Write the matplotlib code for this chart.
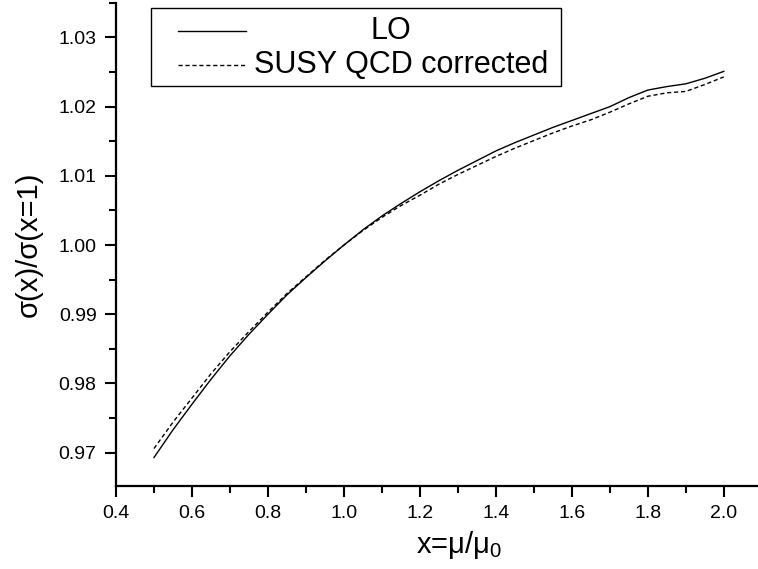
import matplotlib
matplotlib.use("Agg")
import matplotlib.pyplot as plt
from matplotlib.ticker import MultipleLocator, FormatStrFormatter
from matplotlib.patches import Rectangle
from matplotlib.lines import Line2D

plt.rcParams["font.family"] = ["Liberation Sans", "DejaVu Sans"]
plt.rcParams["mathtext.fontset"] = "custom"
plt.rcParams["mathtext.rm"] = "Liberation Sans"
plt.rcParams["mathtext.it"] = "Liberation Sans"

# scale ratio x = mu/mu0
x = [0.50, 0.55, 0.60, 0.65, 0.70, 0.75, 0.80, 0.85, 0.90, 0.95,
     1.00, 1.05, 1.10, 1.15, 1.20, 1.25, 1.30, 1.35, 1.40, 1.45,
     1.50, 1.55, 1.60, 1.65, 1.70, 1.75, 1.80, 1.85, 1.90, 1.95, 2.00]

lo = [0.9693, 0.9733, 0.9770, 0.9806, 0.9840, 0.9871, 0.9900, 0.9928, 0.9953, 0.9977,
      1.0000, 1.0022, 1.0042, 1.0060, 1.0077, 1.0093, 1.0108, 1.0122, 1.0136, 1.0148,
      1.0159, 1.0170, 1.0180, 1.0190, 1.0200, 1.0213, 1.0224, 1.0229, 1.0233, 1.0241, 1.0251]

susy = [0.9706, 0.9744, 0.9779, 0.9814, 0.9846, 0.9875, 0.9903, 0.9930, 0.9954, 0.9978,
        1.0000, 1.0021, 1.0040, 1.0057, 1.0072, 1.0088, 1.0102, 1.0115, 1.0128, 1.0140,
        1.0151, 1.0162, 1.0172, 1.0181, 1.0192, 1.0204, 1.0215, 1.0220, 1.0222, 1.0232, 1.0243]

labels = ["LO", "SUSY QCD corrected"]

fig = plt.figure(figsize=(7.58, 5.69), dpi=100)
ax = fig.add_axes([0.153, 0.146, 0.847, 0.849])

ax.plot(x, lo, color="black", lw=1.0)
ax.plot(x, susy, color="black", lw=1.0, ls=(0, (3, 2)))

ax.set_xlim(0.4, 2.09)
ax.set_ylim(0.9652, 1.035)

for side in ["top", "right"]:
    ax.spines[side].set_visible(False)
for side in ["left", "bottom"]:
    ax.spines[side].set_linewidth(1.6)

ax.xaxis.set_major_locator(MultipleLocator(0.2))
ax.xaxis.set_minor_locator(MultipleLocator(0.1))
ax.yaxis.set_major_locator(MultipleLocator(0.01))
ax.yaxis.set_minor_locator(MultipleLocator(0.005))
ax.xaxis.set_major_formatter(FormatStrFormatter("%.1f"))
ax.yaxis.set_major_formatter(FormatStrFormatter("%.2f"))
ax.tick_params(which="major", direction="out", length=8, width=1.5, labelsize=14, pad=6)
ax.tick_params(which="minor", direction="out", length=5, width=1.5)

ax.set_xlabel("x=μ/μ$_\\mathregular{0}$", fontsize=21)
ax.set_ylabel("σ(x)/σ(x=1)", fontsize=21)
ax.xaxis.set_label_coords(0.534, -0.09)
ax.yaxis.set_label_coords(-0.114, 0.50)

# legend box drawn by hand so the labels can sit centred
ax.add_patch(Rectangle((0.0545, 0.828), 0.6385, 0.1616, transform=ax.transAxes,
                       fill=False, edgecolor="black", lw=1.0, clip_on=False))
ax.add_line(Line2D([0.0966, 0.2025], [0.942, 0.942], transform=ax.transAxes,
                   color="black", lw=1.0))
ax.add_line(Line2D([0.0966, 0.2025], [0.871, 0.871], transform=ax.transAxes,
                   color="black", lw=1.0, ls=(0, (3, 2))))
ax.text(0.428, 0.942, labels[0], transform=ax.transAxes, ha="center", va="center", fontsize=22)
ax.text(0.444, 0.871, labels[1], transform=ax.transAxes, ha="center", va="center", fontsize=22)

fig.savefig("out.png", dpi=100)
plt.close(fig)
